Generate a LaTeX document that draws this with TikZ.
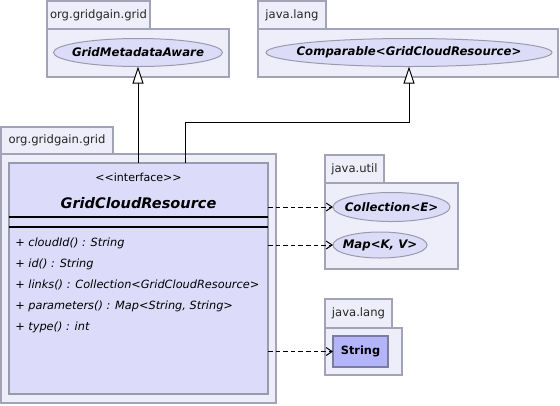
\documentclass[tikz,border=0pt]{standalone}
\usepackage{fontspec}
\setmainfont{DejaVu Sans}
\usetikzlibrary{arrows.meta,shapes.geometric}
\definecolor{pkgfill}{HTML}{EEEEFA}
\definecolor{pkgline}{HTML}{A3A3B8}
\definecolor{clsfill}{HTML}{DCDCFA}
\definecolor{clsline}{HTML}{9A9AAE}
\definecolor{ellfill}{HTML}{DCDCF8}
\definecolor{strfill}{HTML}{B4B4FA}
\definecolor{strline}{HTML}{7C7CA0}
\tikzset{
  pkg/.style={draw=pkgline,fill=pkgfill,line width=0.9pt,rectangle,anchor=north west,inner sep=0pt,outer sep=0pt},
  pkgtab/.style={pkg,font=\fontsize{8.7}{10}\selectfont,text=black!85},
  ell/.style={ellipse,draw=clsline,fill=ellfill,line width=0.75pt,inner sep=0pt,outer sep=0pt},
  elltext/.style={font=\fontsize{8.8}{10}\bfseries\itshape\selectfont,inner sep=0pt},
  cls/.style={draw=clsline,fill=clsfill,line width=0.9pt,rectangle,anchor=north west,inner sep=0pt,outer sep=0pt},
  meth/.style={anchor=west,inner sep=0pt,font=\fontsize{8.5}{10}\itshape\selectfont},
  gen/.style={line width=0.75pt,-{Triangle[open,length=12.75pt,width=8.25pt,fill=white]}},
  dep/.style={line width=0.75pt,dash pattern=on 3.5pt off 2.2pt,-{Straight Barb[length=4.5pt,width=6pt]}},
}
\begin{document}
\begin{tikzpicture}[x=0.75pt,y=-0.75pt]
\useasboundingbox (0,0) rectangle (560,405);
% package org.gridgain.grid (top)
\node[pkg,minimum width=182*0.75pt,minimum height=48*0.75pt] (p1b) at (47,29) {};
\node[pkgtab,minimum width=103*0.75pt,minimum height=28*0.75pt] (p1t) at (47,1) {org.gridgain.grid};
\node[ell,minimum width=169*0.75pt,minimum height=28*0.75pt,label={[elltext]center:GridMetadataAware}] (gma) at (138,52.5) {};
% package java.lang (top)
\node[pkg,minimum width=300*0.75pt,minimum height=48*0.75pt] (p2b) at (258,29) {};
\node[pkgtab,minimum width=68*0.75pt,minimum height=28*0.75pt] (p2t) at (258,1) {java.lang};
\node[ell,minimum width=286*0.75pt,minimum height=28*0.75pt,label={[elltext]center:Comparable<GridCloudResource>}] (comp) at (409,52.5) {};
% package org.gridgain.grid (class)
\node[pkg,minimum width=275*0.75pt,minimum height=249*0.75pt] (p3b) at (1,154) {};
\node[pkgtab,minimum width=112*0.75pt,minimum height=27*0.75pt] (p3t) at (1,127) {org.gridgain.grid};
\node[cls,minimum width=259*0.75pt,minimum height=231*0.75pt] (cls) at (9,163) {};
\node[inner sep=0pt,font=\fontsize{8.3}{10}\selectfont] (ster) at (138.5,177) {<{}<interface>{}>};
\node[inner sep=0pt,font=\fontsize{10.9}{12}\bfseries\itshape\selectfont] (cname) at (138.5,203) {GridCloudResource};
\coordinate (s1l) at (9,217); \coordinate (s1r) at (268,217);
\coordinate (s2l) at (9,227); \coordinate (s2r) at (268,227);
\draw[line width=0.8pt] (s1l) -- (s1r);
\draw[line width=0.8pt] (s2l) -- (s2r);
\node[meth] (m1) at (15,243) {+ cloudId() : String};
\node[meth] (m2) at (15,264) {+ id() : String};
\node[meth] (m3) at (15,285) {+ links() : Collection<GridCloudResource>};
\node[meth] (m4) at (15,306) {+ parameters() : Map<String, String>};
\node[meth] (m5) at (15,327) {+ type() : int};
% package java.util
\node[pkg,minimum width=133*0.75pt,minimum height=86*0.75pt] (p4b) at (325,183) {};
\node[pkgtab,minimum width=59*0.75pt,minimum height=28*0.75pt] (p4t) at (325,155) {java.util};
\node[ell,minimum width=117*0.75pt,minimum height=29*0.75pt,label={[elltext]center:Collection<E>}] (coll) at (391.5,207) {};
\node[ell,minimum width=94*0.75pt,minimum height=26*0.75pt,label={[elltext]center:Map<K, V>}] (map) at (380,245) {};
% package java.lang (String)
\node[pkg,minimum width=77*0.75pt,minimum height=47*0.75pt] (p5b) at (325,328) {};
\node[pkgtab,minimum width=67*0.75pt,minimum height=29*0.75pt] (p5t) at (325,299) {java.lang};
\node[draw=strline,fill=strfill,line width=0.9pt,anchor=north west,inner sep=0pt,outer sep=0pt,minimum width=55*0.75pt,minimum height=31*0.75pt] (strb) at (333,336) {};
\node[inner sep=0pt,font=\fontsize{8.5}{10}\bfseries\selectfont] (strt) at (strb.center) {String};
% generalizations
\coordinate (c2) at (185,163);
\coordinate (bend) at (185,122);
\draw[gen] (cls.north -| gma.south) -- (gma.south);
\draw[gen] (c2) -- (bend) -| (comp.south);
% dependencies
\draw[dep] (cls.east |- coll.west) -- (coll.west);
\draw[dep] (cls.east |- map.west) -- (map.west);
\draw[dep] (cls.east |- strb.west) -- (strb.west);
\end{tikzpicture}
\end{document}
